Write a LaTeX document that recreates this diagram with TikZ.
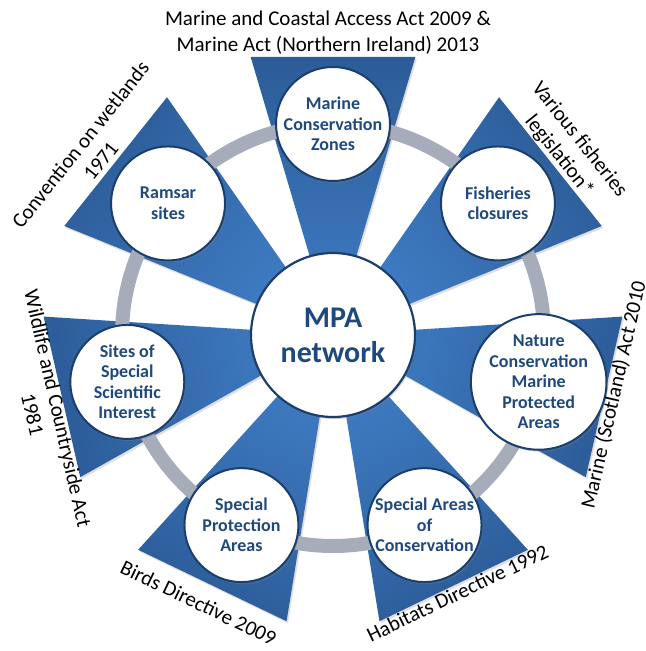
\documentclass[tikz,border=0pt]{standalone}
\usepackage{fontspec}
\setmainfont{Carlito}
\usetikzlibrary{shadows}
\definecolor{tridark}{RGB}{44,92,152}
\definecolor{trilight}{RGB}{64,126,198}
\definecolor{ringgrey}{RGB}{166,172,186}
\definecolor{navy}{RGB}{31,73,125}
\definecolor{rimblue}{RGB}{28,62,108}
\begin{document}
\begin{tikzpicture}[x=1bp,y=1bp,
  sat/.style={circle, draw=rimblue, line width=2bp, fill=white, minimum size=114bp,
    inner sep=0pt, align=center, text=navy,
    font=\fontsize{18bp}{20.5bp}\selectfont\bfseries,
    drop shadow={opacity=0.35, shadow xshift=1.5bp, shadow yshift=-2bp}},
  hub/.style={circle, draw=rimblue, line width=2.2bp, fill=white, minimum size=164bp,
    inner sep=0pt, align=center, text=navy,
    font=\fontsize{30bp}{35bp}\selectfont\bfseries,
    drop shadow={opacity=0.35, shadow xshift=1.5bp, shadow yshift=-2bp}},
  lab/.style={font=\fontsize{21bp}{26bp}\selectfont, align=center, inner sep=0pt, text=black},
  tri/.style={top color=tridark, bottom color=trilight},
]
\useasboundingbox (-333,-316) rectangle (313,335);
% blue wedges
\foreach \a [evaluate=\a as \sa using \a-90] in {90,141.4286,192.8571,244.2857,295.7143,347.1429,38.5714}
  \shade[tri, shading angle=\sa, drop shadow={opacity=0.25, shadow xshift=1.5bp, shadow yshift=-2bp}]
    (0,0) -- (\a-16.5:290) -- (\a+16.5:290) -- cycle;
% grey ring
\draw[ringgrey, line width=14bp] (0,0) circle (211);
% hub and satellites
\node[hub] (mpa) at (0,0) {MPA\\network};
\node[sat] (mcz) at (90:211) {Marine\\Conservation\\Zones};
\node[sat] (ramsar) at (141.4286:211) {Ramsar\\sites};
\node[sat] (sssi) at (192.8571:211) {Sites of\\Special\\Scientific\\Interest};
\node[sat] (spa) at (244.2857:211) {Special\\Protection\\Areas};
\node[sat] (sac) at (295.7143:211) {Special Areas\\of\\Conservation};
\node[sat] (ncmpa) at (347.1429:211) {Nature\\Conservation\\Marine\\Protected\\Areas};
\node[sat] (fish) at (38.5714:211) {Fisheries\\closures};
% legislation labels
\node[lab, anchor=south] (lmcz) at (-5,280) {Marine and Coastal Access Act 2009 \&\\Marine Act (Northern Ireland) 2013};
\node[lab, anchor=south, rotate=51.4286] (lramsar) at (143.2:283) {Convention on wetlands\\1971};
\node[lab, anchor=south, rotate=-51.4286] (lfish) at (38.4:279) {Various fisheries\\legislation*};
\node[lab, anchor=north, rotate=77.1429] (lncmpa) at (348:278) {Marine (Scotland) Act 2010};
\node[lab, anchor=north, rotate=25.7143] (lsac) at (295.7143:279) {Habitats Directive 1992};
\node[lab, anchor=north, rotate=-25.7143] (lspa) at (243.3:292) {Birds Directive 2009};
\node[lab, anchor=north, rotate=-77.1429] (lsssi) at (195:277) {Wildlife and Countryside Act\\1981};
\end{tikzpicture}
\end{document}
